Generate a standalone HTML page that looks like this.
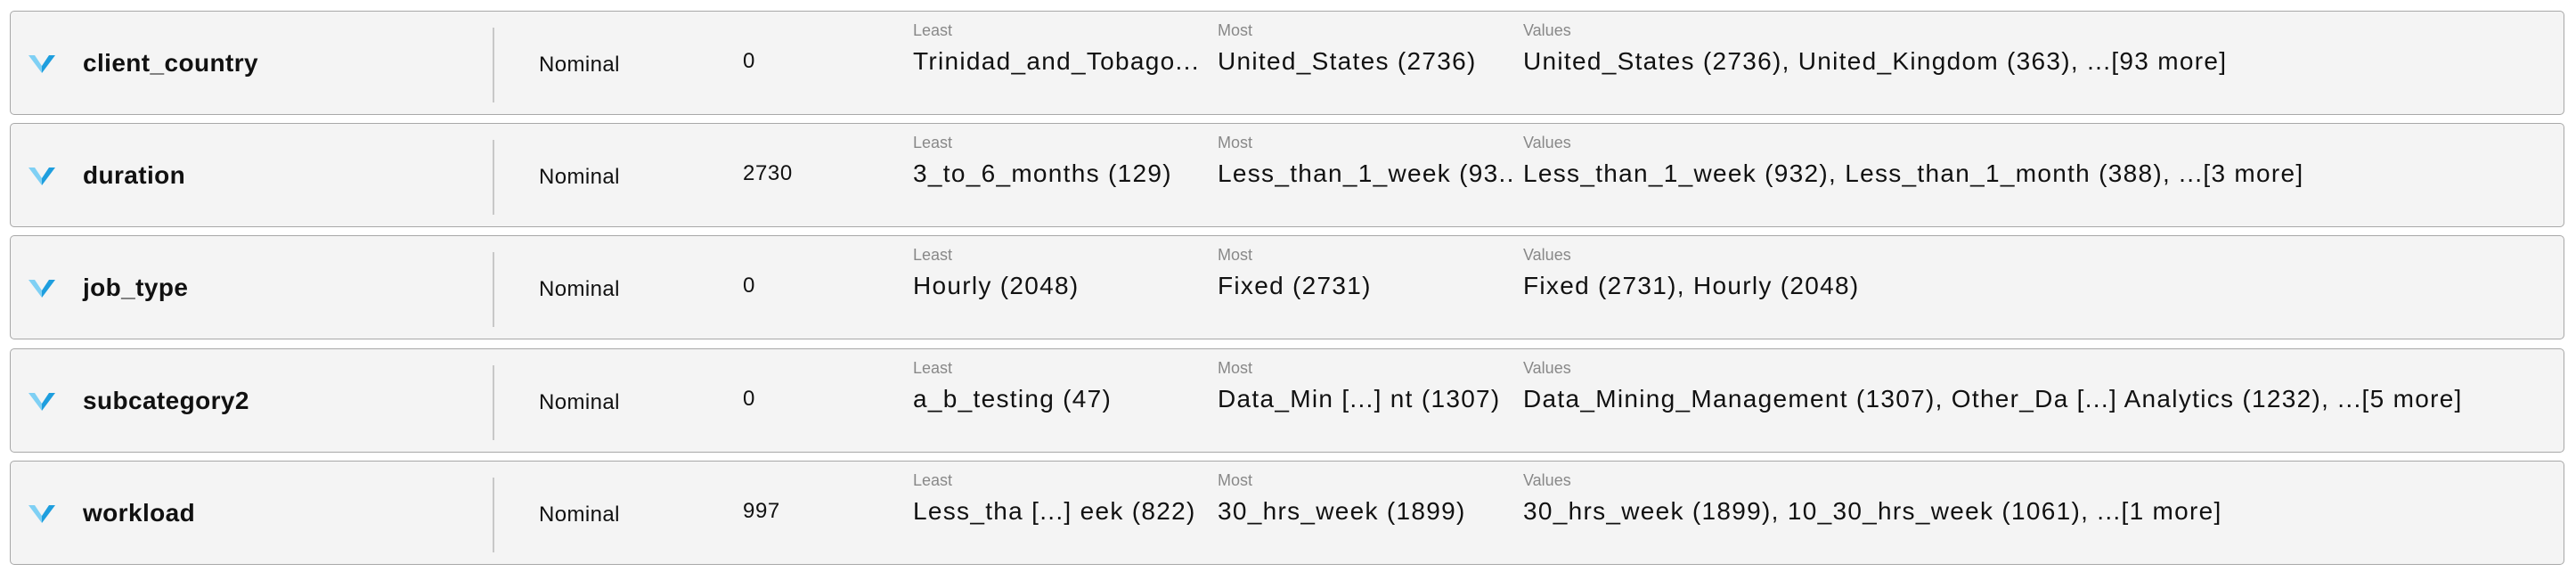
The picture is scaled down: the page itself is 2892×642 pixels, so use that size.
<!DOCTYPE html>
<html><head><meta charset="utf-8"><style>
body{margin:0;width:2892px;height:642px;background:#fff;font-family:"Liberation Sans",sans-serif;position:relative;overflow:hidden}
.row{position:absolute;left:11px;width:2866px;height:115px;background:#f4f4f4;border:1.5px solid #a8a8a8;border-radius:5px}
.chev{position:absolute;left:20px;top:46px;width:30px;height:24px}
.name{position:absolute;left:81px;top:42px;font-size:28px;font-weight:bold;color:#111;letter-spacing:0.4px}
.sep{position:absolute;left:541px;top:18px;width:2px;height:84px;background:#c8c8c8}
.type{position:absolute;left:593px;top:46px;font-size:24px;color:#111;letter-spacing:0.4px}
.miss{position:absolute;left:822px;top:42px;font-size:24px;color:#111;letter-spacing:0.6px}
.lab{position:absolute;top:11px;font-size:18px;color:#888}
.val{position:absolute;top:40px;font-size:28px;color:#111;white-space:nowrap;overflow:hidden;letter-spacing:1.3px}
</style></head><body>
<script>
const names=["client_country","duration","job_type","subcategory2","workload"];
const missing=["0","2730","0","0","997"];
const least=["Trinidad_and_Tobago...","3_to_6_months (129)","Hourly (2048)","a_b_testing (47)","Less_tha [...] eek (822)"];
const most=["United_States (2736)","Less_than_1_week (93...","Fixed (2731)","Data_Min [...] nt (1307)","30_hrs_week (1899)"];
const vals=["United_States (2736), United_Kingdom (363), ...[93 more]","Less_than_1_week (932), Less_than_1_month (388), ...[3 more]","Fixed (2731), Hourly (2048)","Data_Mining_Management (1307), Other_Da [...] Analytics (1232), ...[5 more]","30_hrs_week (1899), 10_30_hrs_week (1061), ...[1 more]"];
const tops=[12,138,264,391,517];
names.forEach((n,i)=>{
 const r=document.createElement('div');r.className='row';r.style.top=tops[i]+'px';
 
 
 r.innerHTML=`<svg class="chev" viewBox="0 0 30 24"><polygon points="0,3 7,3 15,15 15,23" fill="#7fd0f4"/><polygon points="15,15 23,3 30,3 15,23" fill="#1e9ede"/></svg>
 <div class="name">${n}</div>
 <div class="sep"></div>
 <div class="type">Nominal</div>
 <div class="miss">${missing[i]}</div>
 <div class="lab" style="left:1013px">Least</div>
 <div class="val" style="left:1013px;width:335px">${least[i]}</div>
 <div class="lab" style="left:1355px">Most</div>
 <div class="val" style="left:1355px;width:335px">${most[i]}</div>
 <div class="lab" style="left:1698px">Values</div>
 <div class="val" style="left:1698px">${vals[i]}</div>`;
 document.body.appendChild(r);
});
</script>
</body></html>
